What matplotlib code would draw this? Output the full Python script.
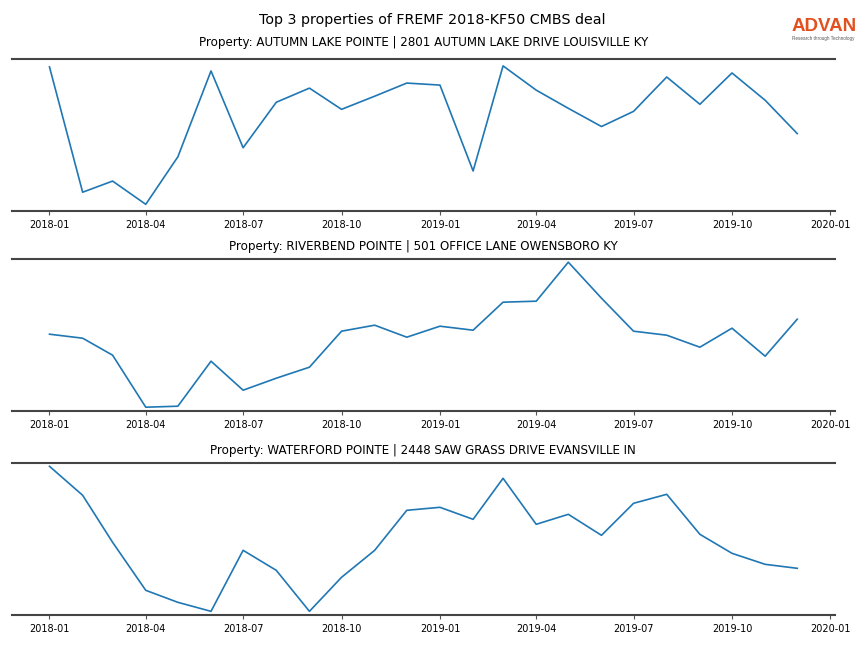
import matplotlib
matplotlib.use("Agg")
import matplotlib.pyplot as plt
import matplotlib.dates as mdates
import numpy as np
import pandas as pd

months = pd.date_range("2018-01-01", "2019-12-01", freq="MS")

titles = [
    "Property: AUTUMN LAKE POINTE | 2801 AUTUMN LAKE DRIVE LOUISVILLE KY",
    "Property: RIVERBEND POINTE | 501 OFFICE LANE OWENSBORO KY",
    "Property: WATERFORD POINTE | 2448 SAW GRASS DRIVE EVANSVILLE IN",
]

# visit counts (arbitrary units)
autumn_lake = [143, 19, 30, 7, 54, 139, 63, 108, 122, 101, 114, 127,
               125, 40, 144, 120, 102, 84, 99, 133, 106, 137, 110, 77]
riverbend = [76, 72, 55, 3, 4, 49, 20, 32, 43, 79, 85, 73,
             84, 80, 108, 109, 148, 112, 79, 75, 63, 82, 54, 91]
waterford = [148, 119, 72, 24, 12, 3, 64, 44, 3, 37, 64, 104,
             107, 95, 136, 90, 100, 79, 111, 120, 80, 61, 50, 46]

series = [autumn_lake, riverbend, waterford]

fig = plt.figure(figsize=(8.64, 6.48), dpi=100)
fig.text(0.5, 0.969, "Top 3 properties of FREMF 2018-KF50 CMBS deal",
         fontsize=10.3, ha="center", va="center")

bottoms = [0.674, 0.366, 0.051]
ymarg = [0.05, 0.025, 0.025]
pads = [9.6, 6, 6]
for b, vals, t, m, p in zip(bottoms, series, titles, ymarg, pads):
    ax = fig.add_axes([0.014, b, 0.952, 0.235])
    ax.plot(months, vals, color="#1f77b4", lw=1.2)
    ax.margins(y=m)
    ax.set_title(t, fontsize=8.6, pad=p)
    for s in ["left", "right"]:
        ax.spines[s].set_visible(False)
    for s in ["top", "bottom"]:
        ax.spines[s].set_color("#444444")
        ax.spines[s].set_linewidth(1.5)
    ax.set_yticks([])
    ax.xaxis.set_major_locator(mdates.MonthLocator(bymonth=[1, 4, 7, 10]))
    ax.xaxis.set_major_formatter(mdates.DateFormatter("%Y-%m"))
    ax.tick_params(axis="x", labelsize=7, length=3, color="#555555")

# logo
fig.text(0.9167, 0.952, "ADVAN", color="#e2501f", fontsize=13.5, fontweight="bold",
         family="Liberation Sans", ha="left", va="baseline")
fig.text(0.9167, 0.938, "Research through Technology", color="#555555", fontsize=3.3,
         family="Liberation Sans", ha="left", va="baseline")

fig.savefig("out.png", dpi=100)
